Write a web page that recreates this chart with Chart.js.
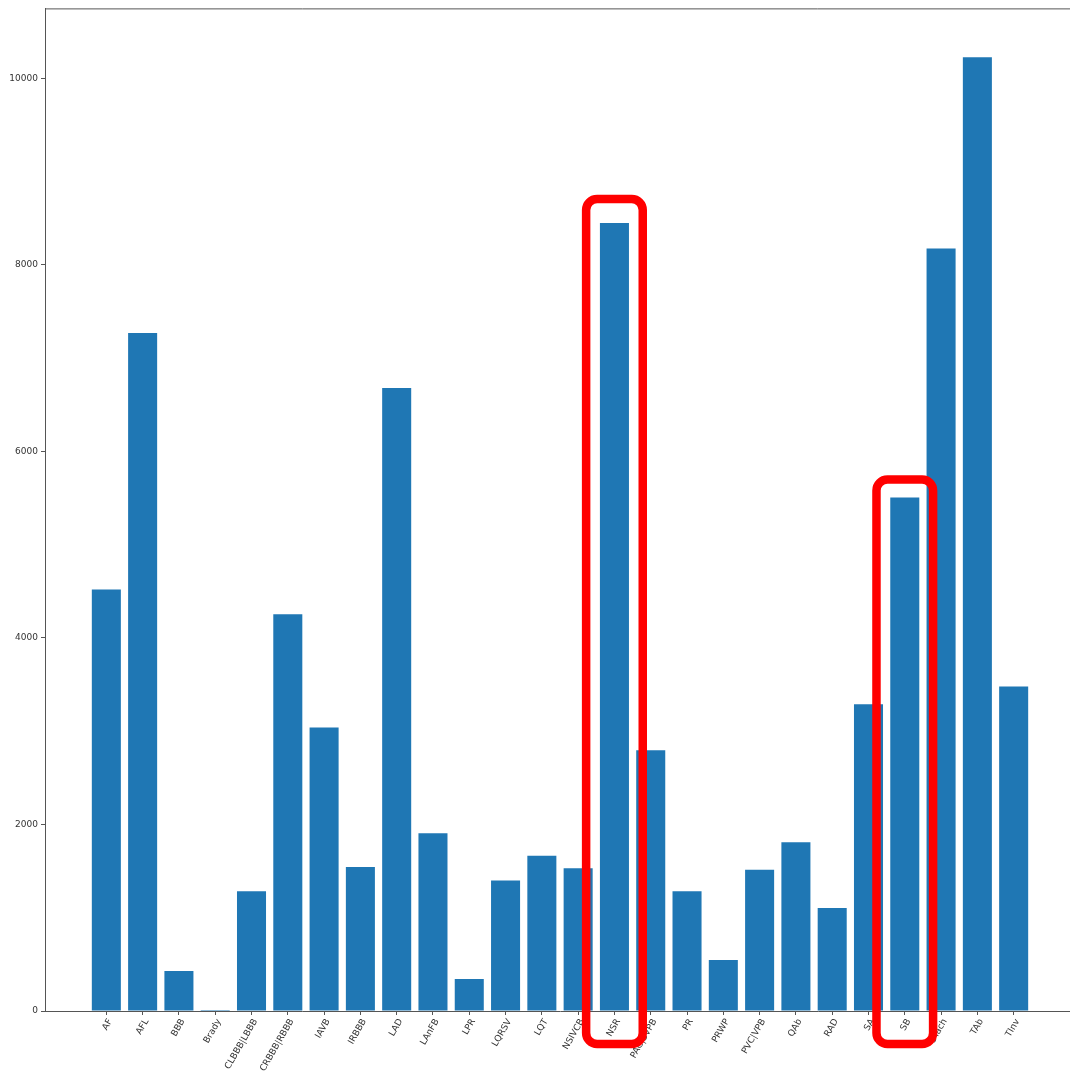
<!DOCTYPE html>
<html>
<head>
<meta charset="utf-8">
<script src="https://cdn.jsdelivr.net/npm/chart.js@4"></script>
<style>
  html, body { margin: 0; padding: 0; overflow: hidden; background: #fff; }
  #wrap { width: 1082px; height: 1073px; }
</style>
</head>
<body>
<div id="wrap"><canvas id="c" width="1082" height="1073"></canvas></div>
<script>
// Rhythm class labels and their record counts
const categories = ['AF', 'AFL', 'BBB', 'Brady', 'CLBBB|LBBB', 'CRBBB|RBBB', 'IAVB', 'IRBBB',
  'LAD', 'LAnFB', 'LPR', 'LQRSV', 'LQT', 'NSIVCB', 'NSR', 'PAC|SVPB', 'PR', 'PRWP',
  'PVC|VPB', 'QAb', 'RAD', 'SA', 'SB', 'STach', 'TAb', 'TInv'];
const counts = [4520, 7270, 428, 10, 1285, 4255, 3040, 1545,
  6680, 1905, 343, 1400, 1665, 1530, 8450, 2795, 1285, 546,
  1515, 1810, 1105, 3290, 5505, 8175, 10225, 3480];
const yTicks = [0, 2000, 4000, 6000, 8000, 10000];
const highlighted = ['NSR', 'SB'];

const n = categories.length;
const barFrac = 0.8;
const xMin = -barFrac / 2 - 0.05 * (n - 1 + barFrac);
const xMax = n - 1 + barFrac / 2 + 0.05 * (n - 1 + barFrac);

// Top frame line plus the red rounded boxes around selected bars
const framePlugin = {
  id: 'frame',
  afterDraw(chart, args, opts) {
    const { ctx, chartArea: a, scales: { x, y } } = chart;
    ctx.save();
    ctx.strokeStyle = '#555';
    ctx.lineWidth = 1;
    ctx.beginPath();
    ctx.moveTo(a.left, a.top + 0.5);
    ctx.lineTo(a.right, a.top + 0.5);
    ctx.stroke();

    const step = x.getPixelForValue(1) - x.getPixelForValue(0);
    ctx.strokeStyle = '#ff0000';
    ctx.lineWidth = 8.5;
    opts.boxes.forEach(b => {
      const i = categories.indexOf(b.name);
      const cx = x.getPixelForValue(i);
      const half = 0.78 * step;
      const top = y.getPixelForValue(counts[i]) - b.above;
      const bottom = a.bottom + 33;
      ctx.beginPath();
      ctx.roundRect(cx - half, top, half * 2, bottom - top, 11);
      ctx.stroke();
    });
    ctx.restore();
  }
};

new Chart(document.getElementById('c'), {
  type: 'bar',
  data: {
    datasets: [{
      data: counts.map((v, i) => ({ x: i, y: v })),
      backgroundColor: '#1f77b4',
      borderWidth: 0,
      barPercentage: barFrac,
      categoryPercentage: 1
    }]
  },
  options: {
    responsive: false,
    animation: false,
    layout: { padding: { top: 7, right: 7, left: 0, bottom: 0 } },
    plugins: {
      legend: { display: false },
      tooltip: { enabled: false },
      frame: { boxes: highlighted.map((name, k) => ({ name, above: k === 0 ? 24 : 18 })) }
    },
    scales: {
      x: {
        type: 'linear',
        offset: false,
        min: xMin,
        max: xMax,
        afterBuildTicks: s => { s.ticks = categories.map((_, i) => ({ value: i })); },
        afterFit: s => { s.height = 62; },
        grid: { offset: false, drawOnChartArea: false, drawTicks: true, tickLength: 4, color: '#555' },
        border: { display: true, color: '#555', width: 1 },
        ticks: {
          autoSkip: false,
          minRotation: 60,
          maxRotation: 60,
          padding: 2,
          labelOffset: 4,
          color: '#333',
          font: { family: 'DejaVu Sans', size: 9 },
          callback: v => categories[Math.round(v)]
        }
      },
      y: {
        min: 0,
        max: 10750,
        afterBuildTicks: s => { s.ticks = yTicks.map(v => ({ value: v })); },
        afterFit: s => { s.width = 45; },
        grid: { drawOnChartArea: false, drawTicks: true, tickLength: 4, color: '#555' },
        border: { display: true, color: '#555', width: 1 },
        ticks: {
          padding: 3,
          color: '#333',
          font: { family: 'DejaVu Sans', size: 9 },
          callback: v => String(v)
        }
      }
    }
  },
  plugins: [framePlugin]
});
</script>
</body>
</html>
